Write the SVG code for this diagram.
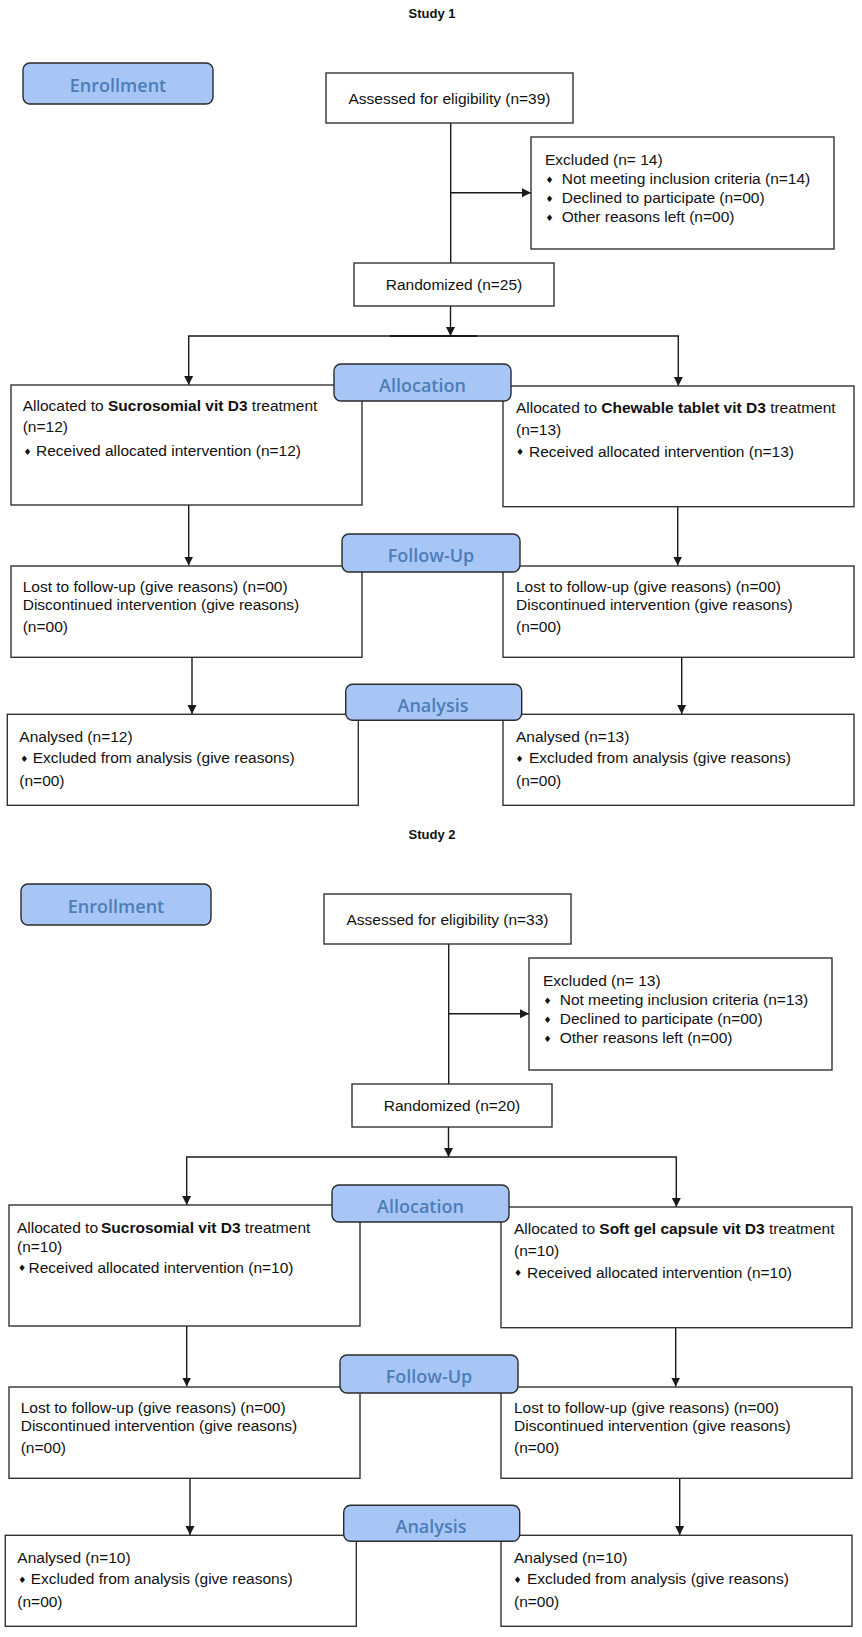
<svg xmlns="http://www.w3.org/2000/svg" width="862" height="1637" viewBox="0 0 862 1637">
<defs>
<marker id="ah" viewBox="0 0 10 10" refX="10" refY="5" markerWidth="9" markerHeight="10" markerUnits="userSpaceOnUse" orient="auto"><path d="M0,0 L10,5 L0,10 z" fill="#1a1a1a"/></marker>
<style>
.box{fill:#fff;stroke:#333;stroke-width:1.4}
.lbl{fill:#a7c6f6;stroke:#2a2a2a;stroke-width:1.4}
.lt{font-family:"Open Sans","DejaVu Sans",sans-serif;font-weight:600;font-size:18px;fill:#4d7db8;text-anchor:middle}
.t{font-family:"Liberation Sans",Arial,sans-serif;font-size:15.5px;fill:#111}
.c{text-anchor:middle}
.b{font-weight:bold}
.bu{font-family:"DejaVu Sans",sans-serif;font-size:9px;fill:#111}
.ttl{font-family:"Liberation Sans",Arial,sans-serif;font-weight:bold;font-size:13px;fill:#111;text-anchor:middle}
.ln{stroke:#1a1a1a;stroke-width:1.4;fill:none}
.ar{marker-end:url(#ah)}
</style>
</defs>
<rect width="862" height="1637" fill="#fff"/>

<!-- ================= STUDY 1 ================= -->
<g id="study1">
<text id="s1-title" class="ttl" x="432" y="18">Study 1</text>

<g id="s1-connectors">
<path class="ln" d="M450.7,123 V263"/>
<path class="ln ar" d="M450.7,192.7 H531"/>
<path class="ln ar" d="M450.5,306 V336"/>
<path class="ln ar" d="M450.5,336 H188.7 V385"/>
<path class="ln ar" d="M450.5,336 H678.3 V386"/>
<path class="ln" style="stroke-width:2.2" d="M390,336 H477"/>
<path class="ln ar" d="M188.7,505 V565.5"/>
<path class="ln ar" d="M677.7,506.7 V565.5"/>
<path class="ln ar" d="M192,657.3 V714"/>
<path class="ln ar" d="M681.7,657.3 V714"/>
</g>

<g id="s1-assessed">
<rect class="box" x="326" y="73" width="247" height="50"/>
<text class="t c" x="449.5" y="104">Assessed for eligibility (n=39)</text>
</g>

<g id="s1-excluded">
<rect class="box" x="531" y="137" width="303" height="112"/>
<text class="t" x="545" y="165">Excluded (n= 14)</text>
<text class="bu" x="545.5" y="182.5">♦</text><text class="t" x="561.7" y="184">Not meeting inclusion criteria (n=14)</text>
<text class="bu" x="545.5" y="201.5">♦</text><text class="t" x="561.7" y="203">Declined to participate (n=00)</text>
<text class="bu" x="545.5" y="220.5">♦</text><text class="t" x="561.7" y="222">Other reasons left (n=00)</text>
</g>

<g id="s1-randomized">
<rect class="box" x="354" y="263" width="200" height="43"/>
<text class="t c" x="454" y="290">Randomized (n=25)</text>
</g>

<g id="s1-alloc-left">
<rect class="box" x="11" y="385" width="351" height="120"/>
<text class="t" x="22.7" y="411">Allocated to <tspan class="b">Sucrosomial vit D3</tspan> treatment</text>
<text class="t" x="22.7" y="432">(n=12)</text>
<text class="bu" x="23.5" y="454.5">♦</text><text class="t" x="36" y="456">Received allocated intervention (n=12)</text>
</g>

<g id="s1-alloc-right">
<rect class="box" x="503" y="386" width="351" height="120.7"/>
<text class="t" x="516" y="413">Allocated to <tspan class="b">Chewable tablet vit D3</tspan> treatment</text>
<text class="t" x="516" y="434.5">(n=13)</text>
<text class="bu" x="516" y="455">♦</text><text class="t" x="529" y="456.5">Received allocated intervention (n=13)</text>
</g>

<g id="s1-fu-left">
<rect class="box" x="11" y="566" width="351" height="91.3"/>
<text class="t" x="22.7" y="591.7">Lost to follow-up (give reasons) (n=00)</text>
<text class="t" x="22.7" y="610">Discontinued intervention (give reasons)</text>
<text class="t" x="22.7" y="631.7">(n=00)</text>
</g>

<g id="s1-fu-right">
<rect class="box" x="503" y="566" width="351" height="91.3"/>
<text class="t" x="516" y="591.7">Lost to follow-up (give reasons) (n=00)</text>
<text class="t" x="516" y="610">Discontinued intervention (give reasons)</text>
<text class="t" x="516" y="631.7">(n=00)</text>
</g>

<g id="s1-an-left">
<rect class="box" x="7.3" y="714.3" width="351" height="91"/>
<text class="t" x="19.3" y="741.7">Analysed (n=12)</text>
<text class="bu" x="20.3" y="761.8">♦</text><text class="t" x="32.7" y="763.3">Excluded from analysis (give reasons)</text>
<text class="t" x="19.3" y="786">(n=00)</text>
</g>

<g id="s1-an-right">
<rect class="box" x="503" y="714.3" width="351" height="91"/>
<text class="t" x="516" y="741.7">Analysed (n=13)</text>
<text class="bu" x="515.5" y="761.8">♦</text><text class="t" x="529" y="763.3">Excluded from analysis (give reasons)</text>
<text class="t" x="516" y="786">(n=00)</text>
</g>

<g id="s1-enrollment">
<rect class="lbl" x="23" y="63" width="190" height="41" rx="7"/>
<text class="lt" x="118" y="91.5">Enrollment</text>
</g>
<g id="s1-allocation">
<rect class="lbl" x="334" y="364" width="177" height="37" rx="7"/>
<text class="lt" x="422.5" y="391.5">Allocation</text>
</g>
<g id="s1-followup">
<rect class="lbl" x="342" y="534" width="178" height="38" rx="7"/>
<text class="lt" x="431" y="561.5">Follow-Up</text>
</g>
<g id="s1-analysis">
<rect class="lbl" x="345.7" y="684.3" width="176" height="36" rx="7"/>
<text class="lt" x="433" y="711.5">Analysis</text>
</g>
</g>

<!-- ================= STUDY 2 ================= -->
<g id="study2" transform="translate(-2 821)">
<text id="s2-title" class="ttl" x="434" y="18">Study 2</text>

<g id="s2-connectors">
<path class="ln" d="M450.7,123 V263"/>
<path class="ln ar" d="M450.7,192.7 H531"/>
<path class="ln ar" d="M450.5,306 V336"/>
<path class="ln ar" d="M450.5,336 H188.7 V384"/>
<path class="ln ar" d="M450.5,336 H678.3 V386"/>
<path class="ln ar" d="M188.7,505 V565.5"/>
<path class="ln ar" d="M677.7,506.7 V565.5"/>
<path class="ln ar" d="M192,657.3 V714"/>
<path class="ln ar" d="M681.7,657.3 V714"/>
</g>

<g id="s2-assessed">
<rect class="box" x="326" y="73" width="247" height="50"/>
<text class="t c" x="449.5" y="104">Assessed for eligibility (n=33)</text>
</g>

<g id="s2-excluded">
<rect class="box" x="531" y="137" width="303" height="112"/>
<text class="t" x="545" y="165">Excluded (n= 13)</text>
<text class="bu" x="545.5" y="182.5">♦</text><text class="t" x="561.7" y="184">Not meeting inclusion criteria (n=13)</text>
<text class="bu" x="545.5" y="201.5">♦</text><text class="t" x="561.7" y="203">Declined to participate (n=00)</text>
<text class="bu" x="545.5" y="220.5">♦</text><text class="t" x="561.7" y="222">Other reasons left (n=00)</text>
</g>

<g id="s2-randomized">
<rect class="box" x="354" y="263" width="200" height="43"/>
<text class="t c" x="454" y="290">Randomized (n=20)</text>
</g>

<g id="s2-alloc-left">
<rect class="box" x="11" y="384" width="351" height="121"/>
<text class="t" x="19" y="412">Allocated to<tspan class="b" dx="3">Sucrosomial vit D3</tspan> treatment</text>
<text class="t" x="19" y="431">(n=10)</text>
<text class="bu" x="20" y="450">♦</text><text class="t" x="30.5" y="451.5">Received allocated intervention (n=10)</text>
</g>

<g id="s2-alloc-right">
<rect class="box" x="503" y="386" width="351" height="120.7"/>
<text class="t" x="516" y="413">Allocated to <tspan class="b">Soft gel capsule vit D3</tspan> treatment</text>
<text class="t" x="516" y="434.5">(n=10)</text>
<text class="bu" x="516" y="455">♦</text><text class="t" x="529" y="456.5">Received allocated intervention (n=10)</text>
</g>

<g id="s2-fu-left">
<rect class="box" x="11" y="566" width="351" height="91.3"/>
<text class="t" x="22.7" y="591.7">Lost to follow-up (give reasons) (n=00)</text>
<text class="t" x="22.7" y="610">Discontinued intervention (give reasons)</text>
<text class="t" x="22.7" y="631.7">(n=00)</text>
</g>

<g id="s2-fu-right">
<rect class="box" x="503" y="566" width="351" height="91.3"/>
<text class="t" x="516" y="591.7">Lost to follow-up (give reasons) (n=00)</text>
<text class="t" x="516" y="610">Discontinued intervention (give reasons)</text>
<text class="t" x="516" y="631.7">(n=00)</text>
</g>

<g id="s2-an-left">
<rect class="box" x="7.3" y="714.3" width="351" height="91"/>
<text class="t" x="19.3" y="741.7">Analysed (n=10)</text>
<text class="bu" x="20.3" y="761.8">♦</text><text class="t" x="32.7" y="763.3">Excluded from analysis (give reasons)</text>
<text class="t" x="19.3" y="786">(n=00)</text>
</g>

<g id="s2-an-right">
<rect class="box" x="503" y="714.3" width="351" height="91"/>
<text class="t" x="516" y="741.7">Analysed (n=10)</text>
<text class="bu" x="515.5" y="761.8">♦</text><text class="t" x="529" y="763.3">Excluded from analysis (give reasons)</text>
<text class="t" x="516" y="786">(n=00)</text>
</g>

<g id="s2-enrollment">
<rect class="lbl" x="23" y="63" width="190" height="41" rx="7"/>
<text class="lt" x="118" y="91.5">Enrollment</text>
</g>
<g id="s2-allocation">
<rect class="lbl" x="334" y="364" width="177" height="37" rx="7"/>
<text class="lt" x="422.5" y="391.5">Allocation</text>
</g>
<g id="s2-followup">
<rect class="lbl" x="342" y="534" width="178" height="38" rx="7"/>
<text class="lt" x="431" y="561.5">Follow-Up</text>
</g>
<g id="s2-analysis">
<rect class="lbl" x="345.7" y="684.3" width="176" height="36" rx="7"/>
<text class="lt" x="433" y="711.5">Analysis</text>
</g>
</g>
</svg>
